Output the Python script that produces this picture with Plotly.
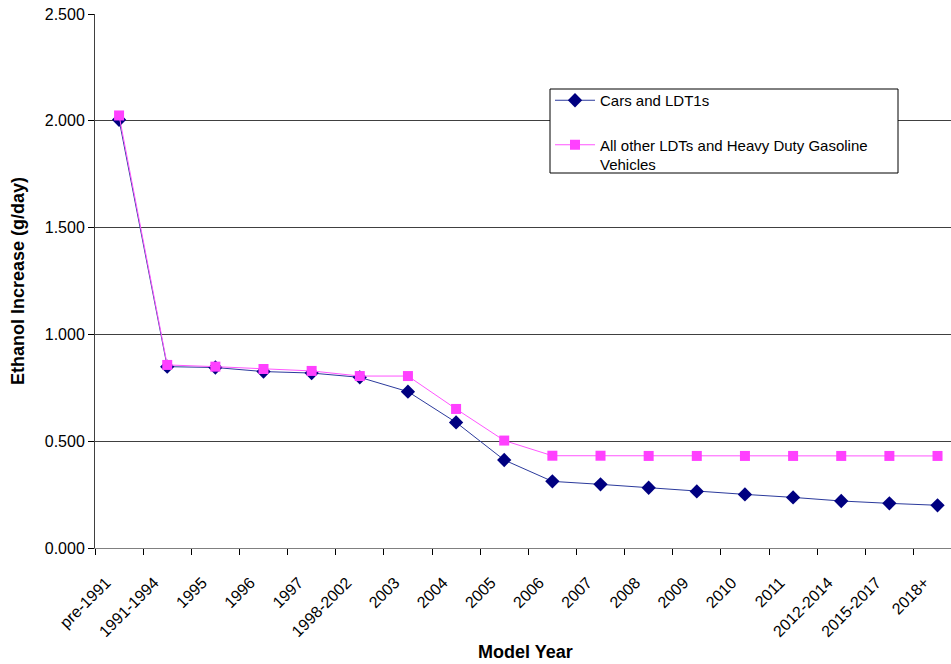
import plotly.graph_objects as go

categories = ["pre-1991", "1991-1994", "1995", "1996", "1997", "1998-2002", "2003",
              "2004", "2005", "2006", "2007", "2008", "2009", "2010", "2011",
              "2012-2014", "2015-2017", "2018+"]
cars_ldt1 = [2.005, 0.849, 0.845, 0.826, 0.819, 0.799, 0.732, 0.588, 0.412, 0.312,
             0.298, 0.282, 0.265, 0.251, 0.237, 0.220, 0.209, 0.200]
other_ldt_hdgv = [2.025, 0.857, 0.849, 0.838, 0.829, 0.805, 0.805, 0.651, 0.503, 0.432,
                  0.432, 0.431, 0.431, 0.431, 0.431, 0.431, 0.431, 0.431]
y_ticks = [0.0, 0.5, 1.0, 1.5, 2.0, 2.5]

FONT = "Arial, Liberation Sans, sans-serif"

fig = go.Figure()
fig.add_trace(go.Scatter(
    x=categories, y=cars_ldt1, name="Cars and LDT1s", mode="lines+markers",
    line=dict(color="#2b3a9c", width=1),
    marker=dict(symbol="diamond", size=11, color="#000080"),
    legendgroup="a"))
fig.add_trace(go.Scatter(
    x=categories, y=other_ldt_hdgv,
    name="All other LDTs and Heavy Duty Gasoline<br>Vehicles",
    mode="lines+markers",
    line=dict(color="#ff55ff", width=1),
    marker=dict(symbol="square", size=10, color="#ff40ff"),
    legendgroup="b"))

W, H = 951, 664
L, R, T, B = 95, 0, 14, 116
pw = W - L - R
ph = H - T - B


def px_x(x):
    return (x - L) / pw


def px_y(y):
    return (H - B - y) / ph


fig.update_layout(
    width=W, height=H,
    margin=dict(l=L, r=R, t=T, b=B, autoexpand=False),
    paper_bgcolor="white", plot_bgcolor="white",
    font=dict(family=FONT, size=16, color="black"),
    showlegend=True,
    legend=dict(
        x=px_x(550), y=px_y(84), xanchor="left", yanchor="top",
        bgcolor="rgba(0,0,0,0)", borderwidth=0,
        font=dict(family=FONT, size=15, color="black"),
        tracegroupgap=22, traceorder="grouped", valign="top", itemwidth=40,
    ),
    shapes=[dict(type="rect", xref="paper", yref="paper",
                 x0=px_x(550), x1=px_x(898), y0=px_y(89), y1=px_y(173),
                 fillcolor="white", line=dict(color="black", width=1),
                 layer="above")],
    xaxis=dict(
        type="category", range=[-0.5, 17.28],
        showgrid=False, showline=True, linecolor="#808080", linewidth=1,
        ticks="outside", tickson="boundaries", ticklen=6, tickcolor="black",
        tickangle=-45, tickfont=dict(family=FONT, size=16),
        ticklabelshift=-13, ticklabelstandoff=18, automargin=False,
    ),
    yaxis=dict(
        range=[0, 2.5], tickvals=y_ticks, tickformat=".3f",
        showgrid=True, gridcolor="#404040", gridwidth=1,
        showline=True, linecolor="#404040", linewidth=1,
        ticks="outside", ticklen=6, tickcolor="black",
        tickfont=dict(family=FONT, size=16), zeroline=False, automargin=False,
    ),
    annotations=[
        dict(text="<b>Ethanol Increase (g/day)</b>", textangle=-90,
             xref="paper", yref="paper", x=px_x(18), y=0.5,
             xanchor="center", yanchor="middle", showarrow=False,
             font=dict(family=FONT, size=18, color="black")),
        dict(text="<b>Model Year</b>",
             xref="paper", yref="paper", x=px_x(525), y=px_y(652),
             xanchor="center", yanchor="middle", showarrow=False,
             font=dict(family=FONT, size=18, color="black")),
    ],
)

fig.write_html(
    "out.html",
    config={"displayModeBar": False},
    post_script="document.body.style.margin='0';document.body.style.padding='0';"
                "document.body.style.overflow='hidden';",
)
